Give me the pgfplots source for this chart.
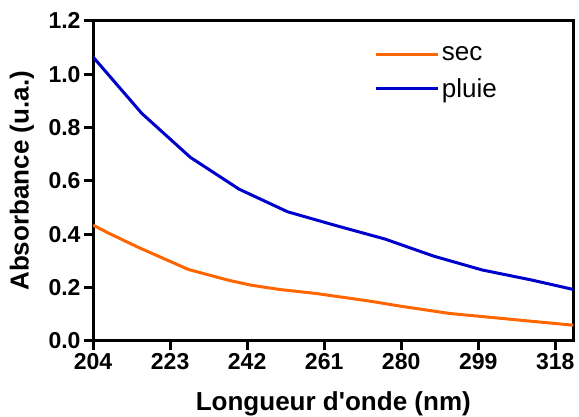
\documentclass[border=0pt]{standalone}
\usepackage{fontspec}
\setmainfont{Liberation Sans}
\usepackage{pgfplots}
\pgfplotsset{compat=1.18}

\definecolor{secorange}{RGB}{255,102,0}
\definecolor{pluieblue}{RGB}{0,0,204}

\begin{document}
\begin{tikzpicture}
\begin{axis}[
  name=ax,
  scale only axis,
  width=480pt, height=320pt,
  xmin=204, xmax=322.5,
  ymin=0, ymax=1.2,
  xtick={204,223,242,261,280,299,318},
  ytick={0,0.2,0.4,0.6,0.8,1.0,1.2},
  tick pos=left,
  tick align=outside,
  major tick length=9pt,
  every tick/.style={black, line width=3pt},
  axis line style={line width=3pt},
  /pgf/number format/assume math mode=true,
  yticklabel style={/pgf/number format/.cd, fixed, fixed zerofill, precision=1},
  xticklabel style={/pgf/number format/.cd, fixed, precision=0, 1000 sep={}},
  ticklabel style={font=\bfseries\fontsize{23}{25}\selectfont},
  xlabel={Longueur d\textquotesingle onde (nm)},
  ylabel={Absorbance (u.a.)},
  label style={font=\bfseries\fontsize{26}{28}\selectfont},
  xlabel style={at={(axis description cs:0.5,-0.195)}, anchor=center},
  ylabel style={at={(axis description cs:-0.148,0.5)}, anchor=center},
  legend style={draw=none, fill=none, at={(axis description cs:0.58,0.932)}, anchor=north west,
    font=\fontsize{26}{28}\selectfont, row sep=12pt},
  legend cell align=left,
  legend image code/.code={\draw[#1, line width=3pt] (0pt,0pt) -- (48pt,0pt); \path (0pt,0pt) -- (62pt,0pt);},
]
\addplot[secorange, line width=3pt] coordinates {
  (204,0.434) (207.7,0.405) (215,0.352) (222,0.305) (227.5,0.268) (237.3,0.228)
  (243,0.209) (250,0.193) (259,0.178) (272,0.150) (280,0.130) (292,0.103)
  (299,0.093) (310,0.077) (322.5,0.059)
};
\addplot[pluieblue, line width=3pt] coordinates {
  (204,1.064) (216,0.853) (228,0.688) (240,0.569) (252,0.484) (264,0.432)
  (276,0.382) (288,0.318) (300,0.266) (312,0.229) (322.5,0.193)
};
\legend{sec,pluie}
\end{axis}
\pgfresetboundingbox
\useasboundingbox ([xshift=-93pt,yshift=-75.3pt]ax.south west) rectangle ([xshift=5.5pt,yshift=20.7pt]ax.north east);
\end{tikzpicture}
\end{document}
